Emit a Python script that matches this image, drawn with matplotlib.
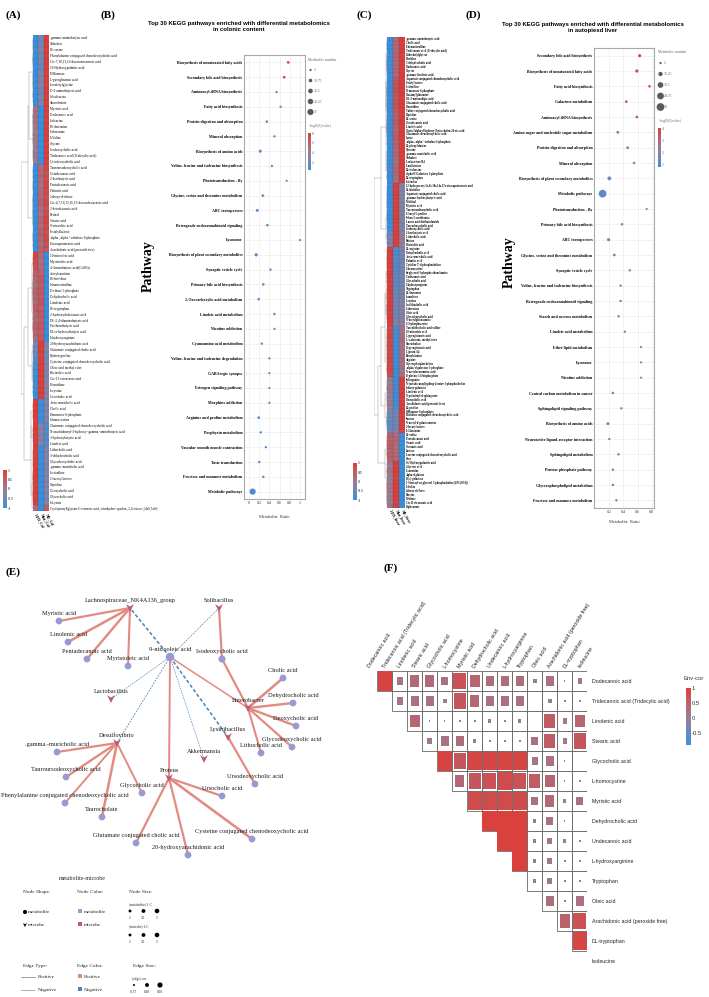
import numpy as np
import matplotlib
matplotlib.use('Agg')
import matplotlib.pyplot as plt
from matplotlib.colors import LinearSegmentedColormap, Normalize
from matplotlib.collections import LineCollection
from matplotlib.patches import Rectangle
from matplotlib.path import Path
from matplotlib.cm import ScalarMappable

SERIF = 'Liberation Serif'
SANS = 'Liberation Sans'

# ------------------------------------------------------------------ DATA
# Panel A heatmap (colonic content)
A_rows = ['.gamma.-aminobutyric acid', 'Trehalose', 'DL-serine', 'Phenylalanine conjugated chenodeoxycholic acid',
          'Cis-7,10,13,16-docosatetraenoic acid', '16-Hydroxypalmitic acid', 'D-Mannose', 'L-pyroglutamic acid',
          'Isovalerylglycine', 'D-2-aminobutyric acid', 'L-Isoleucine', 'Taurocholate', 'Myristic acid',
          'Dodecanoic acid', 'Isoleucine', 'DL-threonine', 'L-threonine', 'L-Valine', 'Glycine',
          'Isodeoxycholic acid', 'Tridecanoic acid (Tridecylic acid)', 'Ursodeoxycholic acid',
          'Tauroursodeoxycholic acid', 'Octadecanoic acid', '2-ketobutyric acid', 'Pentadecanoic acid',
          'Palmitic acid', '2-deoxy-d-ribose', 'Cis-4,7,10,13,16,19-docosahexaenoic acid', '2-ketodecanoic acid',
          'Retinol', 'Stearic acid', '9-nitrooleic acid', "6'-sialyllactose",
          ".alpha.,.alpha.'-trehalose 6-phosphate", 'Eicosapentaenoic acid', 'Arachidonic acid (peroxide free)',
          '10-nitrooleic acid', 'Myristoleic acid', '4-Aminobutyric acid(GABA)', 'Acetylcarnitine', 'DL-histidine',
          'L-homocitrulline', 'D-ribose 5-phosphate', 'Dehydrocholic acid', 'Linolenic acid', 'DL-tryptophan',
          '2-hydroxydodecanoic acid', 'DL-2,4-diaminobutyric acid', 'Perfluorobutyric acid',
          'DL-a-hydroxybutyric acid', 'L-hydroxyarginine', '20-hydroxyarachidonic acid',
          'Glutamate conjugated cholic acid', 'Hydroxyproline', 'Cysteine conjugated chenodeoxycholic acid',
          'Oleic acid methyl ester', 'Ricinoleic acid', 'Cis-11-eicosenoic acid', 'D-ornithine', 'L-cystine',
          'Ursocholic acid', '.beta.-muricholic acid', 'Cholic acid', 'D-mannose-6-phosphate', 'L-homocystine',
          'Glutamate conjugated chenodeoxycholic acid',
          'N-arachidonoyl-3-hydroxy-.gamma.-aminobutyric acid', '3-hydroxybutyric acid', 'Linoleic acid',
          'Lithocholic acid', '3-dehydrocholic acid', 'Glycodeoxycholic acid', '.gamma.-muricholic acid',
          'L-citrulline', "2'-fucosyllactose", 'D-proline', 'Deoxycholic acid', 'Glycocholic acid', 'L-Lysine',
          'Cyclopentyl[glycan-5-octanoic acid, tetrahydro-.epsilon.,2,4-trioxo-,(4aS,5aS)-']
A_cols = ['HFD_Col', 'Nfat_Col', 'ND_Col']
A_c1 = [-1, -1, -0.9, -1, -1, -0.95, -1, -1, -0.9, -1, -1, -0.95,
        0.1, 0.2, 0.15, 0.1, 0.0, 0.1, 0.05, -0.1, 0.1, 0.0,
        -1, -1, -1, -0.95, -1, -1, -1, -0.95, -1, -1, -1, -0.95, -1, -1, -1,
        0.9, 0.8, 0.7, 0.5, 0.4, 0.3, 0.5, 0.4, 0.3, 0.6, 0.4, 0.3, 0.5, 0.4, 0.3,
        -0.3, -0.5, -0.6, -0.8, -0.9, -0.9, -1, -0.9, -1, -1,
        1, 1, 1, 0.95, 1, 1, 0.95, 1, 1, 1, 0.95, 1, 1, 1, 0.95, 1, 1, 1, 0.3]
A_c2 = [-0.5, -0.4, -0.3, -0.5, -0.4, -0.6, -0.3, -0.4, -0.2, -0.5, -0.4, -0.3,
        -1, -1, -0.95, -1, -1, -1, -0.95, -1, -1, -1,
        0.3, 0.4, 0.3, 0.2, 0.3, 0.4, 0.5, 0.3, 0.2, 0.4, 0.3, 0.5, 0.4, 0.3, 0.4,
        0.3, 0.2, 0.3, 0.4, 0.6, 0.5, 0.6, 0.5, 0.7, 0.5, 0.6, 0.5, 0.6, 0.5, 0.6,
        1, 1, 0.95, 1, 1, 1, 0.95, 1, 1, 1,
        -1, -1, -1, -1, -0.2, -0.3, -0.2, -0.3, -1, -1, -0.95, -1, -1, -1, -0.95, -1, -1, -1, -1]
A_c3 = [1, 1, 0.95, 1, 1, 1, 0.95, 1, 1, 1, 0.95, 1,
        1, 1, 0.95, 1, 1, 1, 0.95, 1, 1, 1,
        0.8, 0.7, 0.8, 0.9, 0.8, 0.7, 0.8, 0.7, 0.8, 0.9, 0.8, 0.7, 0.8, 0.7, 0.6,
        -1, -1, -1, -0.95, -1, -1, -1, -0.95, -1, -1, -1, -0.95, -1, -1, -1,
        -0.4, -0.3, -0.5, -0.4, -0.2, -0.3, -0.4, -0.1, -0.2, -0.3,
        -0.3, -0.4, -0.2, -0.3, -0.8, -0.7, -0.8, -0.7, -0.3, -0.2, -0.3, -0.4, -0.2, -0.3, -0.2, -0.3, -0.4, -0.3, 0.5]

# Panel C heatmap (liver)
C_rows = ['.gamma.-aminobutyric acid', 'Cholic acid', 'L-homocitrulline', 'Tridecanoic acid (Tridecylic acid)',
          'Lithocholylglycine', 'Histidine', '3-dehydrocholic acid', 'Dodecanoic acid', 'Glycine',
          '.gamma.-linolenic acid', 'Aspartate conjugated chenodeoxycholic acid', "6'-sialyllactose",
          'L-citrulline', 'D-mannose 6-phosphate', 'Glutamylglutamine', 'DL-2-aminoadipic acid',
          'Glutamate conjugated cholic acid', 'D-ornithine', 'Valine conjugated chenodeoxycholic acid', 'D-proline',
          'DL-serine', 'Octadecanoic acid', 'Linoleic acid', '3beta,7alpha-dihydroxy-5beta-cholan-24-oic acid',
          'Glutamate chenodeoxycholic acid', 'Lysine', ".alpha.,.alpha.'-trehalose 6-phosphate",
          'DL-phenylalanine', 'Tyrosine', '.gamma.-muricholic acid', 'Trehalose', 'Leukotriene B4',
          'L-methionine', 'DL-isoleucine', 'alpha-D-Galactose 1-phosphate', 'DL-tryptophan', 'Isoleucine',
          '12-hydroperoxy-5z,8z,10e,14z,17z-eicosapentaenoic acid', 'DL-histidine',
          'Aspartate conjugated cholic acid', '.gamma.-hydroxybutyric acid', 'Maltitol', 'Myristic acid',
          'Tauroursodeoxycholic acid', 'L-leucyl-L-proline', 'Seleno-L-methionine', 'Lauric acid diethanolamide',
          'Taurodeoxycholic acid', 'Isodeoxycholic acid', '2-ketobutyric acid', 'Lithocholic acid', 'Betaine',
          'Ricinoleic acid', 'DL-arginine', 'Dehydrocholic acid', '.beta.-muricholic acid', 'Palmitic acid',
          "Cytidine 5'-diphosphocholine", 'L-homocystine', 'Sn-glycerol-3-phosphoethanolamine', 'Undecanoic acid',
          'Glycocholic acid', 'L-hydroxyarginine', 'Tryptophan', 'DL-threonine', 'Isomaltose', 'L-cystine',
          'Isolithocholic acid', 'L-threonine', 'Oleic acid', 'Glycodeoxycholic acid', 'N-acetylglucosamine',
          'L-O-phosphoserine', 'Taurolithocholic acid sulfate', '10-nitrooleic acid', 'L-pyroglutamic acid',
          'L-isoleucine, methyl ester', 'Taurocholate', 'D-pyroglutamic acid', 'Lipoxin A4', 'Phenylalanine',
          'Arginine', 'Glycerophosphocholine', '.alpha.-d-galactose 1-phosphate', 'N-acetylneuraminic acid',
          'D-glucose 1,6-bisphosphate', 'Sphinganine', 'N-(octadecanoyl)sphing-4-enine-1-phosphocholine',
          '1-deoxy-galactose', 'Linolenic acid', 'N-palmitoyl-d-sphingosine', 'Deoxycholic acid',
          'Arachidonic acid (peroxide free)', 'DL-proline', 'D-Mannose-6-phosphate',
          'Histidine conjugated chenodeoxycholic acid', 'Sucrose', 'N-acetyl-d-galactosamine',
          "2'-fucosyllactose", 'L-Glutamine', 'DL-valine', 'Pentadecanoic acid', 'Stearic acid', 'Octanoic acid',
          'Lactose', 'Leucine conjugated chenodeoxycholic acid', 'Urea', '16-Hydroxypalmitic acid',
          'Glyceric acid', 'L-carnitine', 'Alpha-d-glucose', 'D-(+)-galactose',
          '1-Stearoyl-sn-glycerol 3-phosphocholine(LPC(18:0))', 'L-Valine', '2-deoxy-d-ribose', 'Taurine',
          'Maltose', 'Cis-11-eicosenoic acid', 'D-gluconate']
C_cols = ['HFD_liver', 'Nfat_liver', 'ND_liver']
C_c1 = [-1, -0.95, -1, -1, -0.9, -1, -1, -0.95, -1, -1, -1, -0.9, -1, -1, -1, -0.95, -1, -1, -1, -0.9,
        -1, -1, -0.95, -1, -1, -1, -0.9, -1, -1, -1, -0.95, -1, -1, -0.9, -1, -1, -1,
        -0.9, -1, -1, -0.95, -1, -1, -0.9, -1, -1, -1, -0.95, -1, -0.6, -0.5, -0.4, -0.3,
        1, 1, 0.95, 1, 1, 0.9, 1, 1, 1, 0.95, 1, 1, 0.9, 1, 1, 1, 0.95, 1, 1, 0.9,
        0.8, 0.85, 0.9, 0.8, 0.85, 0.9, 0.8, 0.85, 0.9, 0.8, 0.85, 0.9, 0.8,
        0.1, 0.0, 0.2, 0.1, 0.0, -0.1, 0.1, 0.0, -0.2, -0.5, -0.6, -0.7, -0.6, -0.5,
        0.5, 0.4, 0.5, 0.6, 0.4, 0.5, 0.4,
        0.1, 0.0, 0.2, 0.1, -0.1, 0.0, 0.1, 0.2, 0.0, 0.1, 0.0, 0.1]
C_c2 = [0.3, 0.4, 0.35, 0.3, 0.45, 0.4, 0.3, 0.35, 0.4, 0.3, 0.6, 0.7, 0.65, 0.8, 0.7, 0.6, 0.7, 0.75, 0.6, 0.5,
        0.5, 0.6, 0.5, 0.4, 0.5, 0.6, 0.4, 0.5, 0.3, 0.4, 0.3, 0.2, 0.3, 0.4, 0.3, 0.2, 0.3,
        1, 0.95, 1, 1, 0.9, 1, 1, 0.95, 1, 1, 0.9, 1, 1, 0.95, 1, 1,
        -0.8, -0.9, -0.8, -0.7, -0.9, -0.8, -0.7, -0.6, -0.8, -0.7, -0.6, -0.7, -0.5, -0.6, -0.4, -0.5, -0.6,
        -0.4, -0.5, -0.3, -0.9, -1, -0.9, -0.95, -1, -0.9, -1, -0.95, -0.9, -1, -0.9, -1, -0.95,
        -1, -0.95, -1, -0.9, -1, -0.95, -1, -0.9, -0.6, -0.5, -0.4, -0.5, -0.4, -0.3,
        0.3, 0.4, 0.3, 0.2, 0.3, 0.4, 0.3,
        1, 0.95, 1, 1, 0.9, 1, 1, 0.95, 1, 1, 0.9, 1]
C_c3 = [1, 0.95, 1, 1, 0.9, 1, 1, 0.95, 1, 1, 1, 0.9, 1, 1, 1, 0.95, 1, 1, 1, 0.9,
        1, 1, 0.95, 1, 1, 1, 0.9, 1, 1, 1, 0.95, 1, 1, 0.9, 1, 1, 1,
        -0.3, -0.2, -0.4, -0.3, -0.2, -0.3, -0.4, -0.2, -0.3, -0.2, -0.4, -0.3, -0.1, 0.0, -0.1, 0.0,
        -0.4, -0.3, -0.5, -0.4, -0.3, -0.5, -0.4, -0.3, -0.5, -0.4, -0.3, -0.2, -0.4, -0.3, -0.2, -0.3, -0.2,
        -0.3, -0.2, -0.1, 0.2, 0.1, 0.2, 0.3, 0.1, 0.2, 0.1, 0.2, 0.3, 0.1, 0.2, 0.1, 0.2,
        1, 0.9, 1, 0.95, 1, 0.9, 1, 0.95, 1, 0.9, 1, 0.95, 1, 0.9,
        -1, -1, -0.95, -1, -1, -0.95, -1,
        -1, -0.95, -1, -1, -0.95, -1, -1, -0.95, -1, -1, -0.95, -1]

# Panel B (colonic content KEGG)
B_paths = ['Biosynthesis of unsaturated fatty acids', 'Secondary bile acid biosynthesis',
           'Aminoacyl-tRNA biosynthesis', 'Fatty acid biosynthesis', 'Protein digestion and absorption',
           'Mineral absorption', 'Biosynthesis of amino acids', 'Valine, leucine and isoleucine biosynthesis',
           'Phototransduction - fly', 'Glycine, serine and threonine metabolism', 'ABC transporters',
           'Retrograde endocannabinoid signaling', 'Lysosome', 'Biosynthesis of plant secondary metabolites',
           'Synaptic vesicle cycle', 'Primary bile acid biosynthesis', '2-Oxocarboxylic acid metabolism',
           'Linoleic acid metabolism', 'Nicotine addiction', 'Cyanoamino acid metabolism',
           'Valine, leucine and isoleucine degradation', 'GABAergic synapse', 'Estrogen signaling pathway',
           'Morphine addiction', 'Arginine and proline metabolism', 'Porphyrin metabolism',
           'Vascular smooth muscle contraction', 'Taste transduction', 'Fructose and mannose metabolism',
           'Metabolic pathways']
B_ratio = [0.77, 0.69, 0.54, 0.62, 0.35, 0.50, 0.22, 0.45, 0.74, 0.27, 0.16, 0.36, 1.0, 0.14, 0.42,
           0.28, 0.19, 0.50, 0.50, 0.25, 0.40, 0.40, 0.40, 0.40, 0.19, 0.23, 0.33, 0.20, 0.28, 0.07]
B_count = [5, 5, 3, 3, 4, 3, 7, 3, 2, 5, 6, 4, 2, 8, 3, 4, 4, 3, 2, 3, 2, 2, 2, 2, 4, 3, 2, 3, 3, 37]
B_q = [7.6, 7.0, 4.2, 4.0, 2.4, 2.3, 2.0, 2.2, 2.2, 1.9, 1.6, 1.8, 2.0, 1.4, 1.5, 1.5, 1.3, 1.4, 1.4,
       1.3, 1.2, 1.2, 1.2, 1.2, 1.1, 1.1, 1.0, 1.0, 1.0, 0.9]

# Panel D (liver KEGG)
D_paths = ['Secondary bile acid biosynthesis', 'Biosynthesis of unsaturated fatty acids', 'Fatty acid biosynthesis',
           'Galactose metabolism', 'Aminoacyl-tRNA biosynthesis', 'Amino sugar and nucleotide sugar metabolism',
           'Protein digestion and absorption', 'Mineral absorption', 'Biosynthesis of plant secondary metabolites',
           'Metabolic pathways', 'Phototransduction - fly', 'Primary bile acid biosynthesis', 'ABC transporters',
           'Glycine, serine and threonine metabolism', 'Synaptic vesicle cycle',
           'Valine, leucine and isoleucine biosynthesis', 'Retrograde endocannabinoid signaling',
           'Starch and sucrose metabolism', 'Linoleic acid metabolism', 'Ether lipid metabolism', 'Lysosome',
           'Nicotine addiction', 'Central carbon metabolism in cancer', 'Sphingolipid signaling pathway',
           'Biosynthesis of amino acids', 'Neuroactive ligand-receptor interaction', 'Sphingolipid metabolism',
           'Pentose phosphate pathway', 'Glycerophospholipid metabolism', 'Fructose and mannose metabolism']
D_ratio = [0.63, 0.59, 0.77, 0.44, 0.59, 0.32, 0.46, 0.55, 0.20, 0.105, 0.73, 0.38, 0.19, 0.27, 0.49,
           0.36, 0.36, 0.33, 0.42, 0.65, 0.65, 0.65, 0.25, 0.37, 0.18, 0.20, 0.33, 0.25, 0.25, 0.30]
D_count = [7, 8, 4, 5, 5, 5, 5, 4, 12, 59, 2, 4, 8, 5, 3, 3, 3, 3, 3, 2, 2, 2, 4, 3, 6, 3, 3, 3, 3, 3]
D_q = [3.9, 3.7, 3.6, 3.1, 3.0, 2.9, 2.6, 2.5, 1.5, 1.3, 2.2, 2.1, 1.6, 1.8, 1.9, 1.7, 1.7, 1.6, 1.6,
       1.8, 1.8, 1.8, 1.5, 1.5, 1.3, 1.4, 1.4, 1.3, 1.3, 1.3]

# Panel E network: edges (source, target, correlation)
E_metabolites = ['Myristic acid', 'Linolenic acid', 'Pentadecanoic acid', 'Myristoleic acid', '9-nitrooleic acid',
                 'Isodeoxycholic acid', 'Cholic acid', 'Dehydrocholic acid', 'Deoxycholic acid',
                 'Glycodeoxycholic acid', 'Lithocholic acid', '.gamma.-muricholic acid',
                 'Tauroursodeoxycholic acid', 'Phenylalanine conjugated chenodeoxycholic acid', 'Taurocholate',
                 'Glycocholic acid', 'Ursocholic acid', 'Ursodeoxycholic acid',
                 'Cysteine conjugated chenodeoxycholic acid', 'Glutamate conjugated cholic acid',
                 '20-hydroxyarachidonic acid']
E_microbes = ['Lachnospiraceae_NK4A136_group', 'Solibacillus', 'Enterobacter', 'Lactobacillus', 'Lysinibacillus',
              'Akkermansia', 'Desulfovibrio', 'Proteus']
E_edges = [
    ('Lachnospiraceae_NK4A136_group', 'Myristic acid', 0.80),
    ('Lachnospiraceae_NK4A136_group', 'Linolenic acid', 0.90),
    ('Lachnospiraceae_NK4A136_group', 'Pentadecanoic acid', 0.85),
    ('Lachnospiraceae_NK4A136_group', 'Myristoleic acid', 0.75),
    ('Solibacillus', 'Isodeoxycholic acid', 0.80),
    ('Enterobacter', 'Isodeoxycholic acid', 0.80),
    ('Enterobacter', 'Cholic acid', 0.93),
    ('Enterobacter', 'Dehydrocholic acid', 0.85),
    ('Enterobacter', 'Deoxycholic acid', 0.85),
    ('Enterobacter', 'Glycodeoxycholic acid', 0.80),
    ('Enterobacter', 'Lithocholic acid', 0.75),
    ('9-nitrooleic acid', 'Enterobacter', 0.55),
    ('9-nitrooleic acid', 'Proteus', 0.70),
    ('Lysinibacillus', 'Ursodeoxycholic acid', 0.80),
    ('Desulfovibrio', '.gamma.-muricholic acid', 0.80),
    ('Desulfovibrio', 'Tauroursodeoxycholic acid', 0.85),
    ('Desulfovibrio', 'Phenylalanine conjugated chenodeoxycholic acid', 0.70),
    ('Desulfovibrio', 'Taurocholate', 0.90),
    ('Desulfovibrio', 'Glycocholic acid', 0.70),
    ('Proteus', 'Ursocholic acid', 0.80),
    ('Proteus', 'Cysteine conjugated chenodeoxycholic acid', 0.93),
    ('Proteus', 'Glutamate conjugated cholic acid', 0.80),
    ('Proteus', '20-hydroxyarachidonic acid', 0.80),
    ('9-nitrooleic acid', 'Lachnospiraceae_NK4A136_group', -0.57),
    ('9-nitrooleic acid', 'Lysinibacillus', -0.57),
    ('9-nitrooleic acid', 'Solibacillus', -0.25),
    ('9-nitrooleic acid', 'Lactobacillus', -0.25),
    ('9-nitrooleic acid', 'Desulfovibrio', -0.30),
    ('9-nitrooleic acid', 'Akkermansia', -0.25),
]

# Panel F correlation matrix (upper triangle, row i vs columns i+1..15)
F_labels = ['Dodecanoic acid', 'Tridecanoic acid (Tridecylic acid)', 'Linolenic acid', 'Stearic acid',
            'Glycocholic acid', 'L-homocystine', 'Myristic acid', 'Dehydrocholic acid', 'Undecanoic acid',
            'L-hydroxyarginine', 'Tryptophan', 'Oleic acid', 'Arachidonic acid (peroxide free)', 'DL-tryptophan',
            'Isoleucine']
F_upper = [
    [0.94, 0.16, 0.36, 0.36, 0.20, 0.72, 0.42, 0.30, 0.30, 0.30, 0.06, 0.25, 0.003, 0.09],
    [0.16, 0.25, 0.25, 0.06, 0.64, 0.36, 0.25, 0.25, 0.25, 0.0, 0.06, 0.02, 0.015],
    [0.42, 0.006, 0.006, 0.01, 0.02, 0.04, 0.02, 0.04, 0.001, 0.56, 0.09, 0.42],
    [0.12, 0.25, 0.30, 0.04, 0.01, 0.01, 0.01, 0.20, 0.56, 0.09, 0.64],
    [0.94, 0.64, 0.90, 0.90, 0.90, 0.90, 0.16, 0.25, 0.006, 0.0],
    [0.36, 0.64, 0.72, 0.81, 0.72, 0.56, 0.42, 0.003, 0.02],
    [0.81, 0.81, 0.81, 0.81, 0.20, 0.36, 0.04, 0.20],
    [0.98, 0.98, 0.98, 0.04, 0.20, 0.003, 0.0005],
    [0.98, 0.98, 0.04, 0.12, 0.04, 0.01],
    [0.98, 0.04, 0.12, 0.02, 0.01],
    [0.04, 0.12, 0.02, 0.01],
    [0.30, 0.01, 0.25],
    [0.49, 0.72],
    [0.90],
    [],
]

# ------------------------------------------------------------------ LAYOUT
W, H = 709, 997
fig = plt.figure(figsize=(W / 100, H / 100), dpi=100)
fig.patch.set_facecolor('white')


def add_ax(x0, y0, x1, y1):
    return fig.add_axes([x0 / W, 1 - y1 / H, (x1 - x0) / W, (y1 - y0) / H])


def ftext(x, y, s, **kw):
    fig.text(x / W, 1 - y / H, s, **kw)


cmap = LinearSegmentedColormap.from_list('rb', ['#3a8fdd', '#6f88b8', '#9b7d93', '#bd5f69', '#db3f3b'])

# panel letters
for lab, x, y in [('(A)', 13, 15), ('(B)', 108, 15), ('(C)', 364, 15), ('(D)', 473, 15),
                  ('(E)', 13, 572), ('(F)', 391, 568)]:
    ftext(x, y, lab, ha='center', va='center', fontsize=8, fontweight='bold', family=SERIF)


# ------------------------------------------------------------------ heatmaps with dendrograms
def adj_linkage(M):
    clusters = [dict(mean=M[i].astype(float), cnt=1, y=i + 0.5, h=0.0) for i in range(len(M))]
    segs = []
    hmax = 0.0
    while len(clusters) > 1:
        d = []
        for k in range(len(clusters) - 1):
            a, b = clusters[k], clusters[k + 1]
            w = np.sqrt(2.0 * a['cnt'] * b['cnt'] / (a['cnt'] + b['cnt']))
            d.append(np.linalg.norm(a['mean'] - b['mean']) * w)
        k = int(np.argmin(d))
        a, b = clusters[k], clusters[k + 1]
        h = max(d[k], a['h'], b['h']) + 0.02
        segs += [[(a['h'], a['y']), (h, a['y'])], [(b['h'], b['y']), (h, b['y'])],
                 [(h, a['y']), (h, b['y'])]]
        cnt = a['cnt'] + b['cnt']
        clusters[k:k + 2] = [dict(mean=(a['mean'] * a['cnt'] + b['mean'] * b['cnt']) / cnt, cnt=cnt,
                                  y=(a['y'] + b['y']) / 2, h=h)]
        hmax = h
    return segs, hmax


def heat_panel(box, dend_x0, cols, rows, col_labels, fs, weight, cbar_box):
    x0, y0, x1, y1 = box
    M = np.column_stack([np.array(c, float) for c in cols])
    n = M.shape[0]
    ax = add_ax(x0, y0, x1, y1)
    ax.pcolormesh(M, cmap=cmap, vmin=-1, vmax=1, edgecolors='none', antialiased=False)
    ax.hlines(np.arange(n + 1), 0, 3, color='#2a2a2a', lw=0.2, alpha=0.35)
    ax.vlines([1, 2], 0, n, color='#2a2a2a', lw=0.25, alpha=0.45)
    ax.set_xlim(0, 3)
    ax.set_ylim(n, 0)
    ax.yaxis.tick_right()
    ax.set_yticks(np.arange(n) + 0.5)
    ax.set_yticklabels(rows[:n], fontsize=fs, family=SERIF, fontweight=weight)
    ax.set_xticks([])
    ax.tick_params(length=0, pad=0.8)
    for s in ax.spines.values():
        s.set_visible(False)
    for j, cl in enumerate(col_labels):
        ax.text(j + 0.5, n + 0.6, cl, rotation=-60, rotation_mode='anchor', ha='left', va='center',
                fontsize=2.8, family=SERIF, fontweight='bold', clip_on=False)
    dax = add_ax(dend_x0, y0, x0, y1)
    segs, hmax = adj_linkage(M)
    dax.add_collection(LineCollection(segs, colors='#8a8a8a', linewidths=0.3))
    dax.set_xlim(hmax * 1.03, 0)
    dax.set_ylim(n, 0)
    dax.axis('off')
    cax = add_ax(*cbar_box)
    cb = fig.colorbar(ScalarMappable(norm=Normalize(-1, 1), cmap=cmap), cax=cax, ticks=[1, 0.5, 0, -0.5, -1])
    cb.outline.set_visible(False)
    cb.ax.set_yticklabels(['1', '0.5', '0', '-0.5', '-1'])
    cb.ax.tick_params(labelsize=2.8, length=0, pad=0.8)
    for t in cb.ax.get_yticklabels():
        t.set_family(SERIF)


heat_panel((33, 35, 49, 511), 21, [A_c1, A_c2, A_c3], A_rows, A_cols, 2.4, 'normal', (3, 470, 7, 508))
heat_panel((387, 37, 405, 508), 374, [C_c1, C_c2, C_c3], C_rows, C_cols, 2.0, 'bold', (353, 463, 357, 500))


# ------------------------------------------------------------------ bubble panels
def bsize(v):
    return 1.5 + 0.5 * np.asarray(v, float)


def bubble_panel(box, paths, ratio, count, q, xlim, xticks, xtl, vmin, vmax, cticks, title, title_xy,
                 pathway_xy, xlabel_y, leg_x, leg_title_y, leg_vals, leg_y0, leg_dy, q_label_y, cbar_box):
    x0, y0, x1, y1 = box
    ax = add_ax(x0, y0, x1, y1)
    y = np.arange(1, len(paths) + 1)
    ax.scatter(ratio, y, s=bsize(count), c=q, cmap=cmap, vmin=vmin, vmax=vmax,
               edgecolors='none', zorder=3)
    ax.set_xlim(*xlim)
    ax.set_ylim(len(paths) + 0.5, 0.5)
    ax.set_yticks(y)
    ax.set_yticklabels(paths, fontsize=2.9, family=SERIF, fontweight='bold')
    ax.set_xticks(xticks)
    ax.set_xticklabels(xtl, fontsize=2.9, family=SERIF, color='#333333')
    ax.tick_params(length=0, pad=1.2)
    ax.grid(True, linestyle=(0, (1, 1.6)), color='#cfcfcf', linewidth=0.45)
    ax.set_axisbelow(True)
    for s in ax.spines.values():
        s.set_color('#a8a8a8')
        s.set_linewidth(0.8)
    ftext(title_xy[0], title_xy[1], title, ha='center', va='center', fontsize=4.3, fontweight='bold',
          family=SANS, linespacing=1.05)
    ftext(pathway_xy[0], pathway_xy[1], 'Pathway', rotation=90, ha='center', va='center', fontsize=10,
          fontweight='bold', family=SERIF)
    ftext((x0 + x1) / 2, xlabel_y, 'Metabolite  Ratio', ha='center', va='center', fontsize=3.2,
          family=SERIF, color='#333333')
    # size legend
    ftext(leg_x, leg_title_y, 'Metabolite number', ha='left', va='center', fontsize=2.7, family=SERIF,
          color='#666666')
    lax = add_ax(leg_x - 2, leg_y0 - 6, leg_x + 30, leg_y0 + leg_dy * 5)
    lax.set_xlim(leg_x - 2, leg_x + 30)
    lax.set_ylim(leg_y0 + leg_dy * 5, leg_y0 - 6)
    lax.axis('off')
    for k, v in enumerate(leg_vals):
        yy = leg_y0 + k * leg_dy
        lax.scatter([leg_x + 2.5], [yy], s=bsize(v), color='#5a5a5a', edgecolors='none')
        lax.text(leg_x + 6, yy, ('%g' % v), fontsize=2.7, family=SERIF, color='#666666', va='center')
    ftext(leg_x, q_label_y, r'-log$_{10}$(Qvalue)', ha='left', va='center', fontsize=2.7, family=SERIF,
          color='#666666')
    cax = add_ax(*cbar_box)
    cb = fig.colorbar(ScalarMappable(norm=Normalize(vmin, vmax), cmap=cmap), cax=cax, ticks=cticks)
    cb.outline.set_visible(False)
    cb.ax.tick_params(labelsize=2.7, length=0, pad=0.8, labelcolor='#666666')
    for t in cb.ax.get_yticklabels():
        t.set_family(SERIF)


bubble_panel((244, 55, 305, 499), B_paths, B_ratio, B_count, B_q, (-0.1, 1.1),
             [0, 0.2, 0.4, 0.6, 0.8, 1.0], ['0', '0.2', '0.4', '0.6', '0.8', '1'], 0.35, 8.05, [2, 4, 6, 8],
             'Top 30 KEGG pathways enriched with differential metabolomics\nin colonic content', (239, 26.5),
             (148, 266), 517, 308, 60, [2, 10.75, 19.5, 28.25, 37], 70, 10.5, 126, (308, 133, 311, 170))

bubble_panel((594, 48, 654, 508), D_paths, D_ratio, D_count, D_q, (-0.017, 0.833),
             [0.2, 0.4, 0.6, 0.8], ['0.2', '0.4', '0.6', '0.8'], 0.75, 4.0, [1, 2, 3, 4],
             'Top 30 KEGG pathways enriched with differential metabolomics\nin autopiesd liver', (593, 27.5),
             (509, 262), 522, 658, 52, [2, 16.25, 30.5, 44.75, 59], 63, 11, 121, (658, 128, 661, 167))

# ------------------------------------------------------------------ panel E network
E_layout = {
    'Lachnospiraceae_NK4A136_group': (130, 608), 'Solibacillus': (219, 608), 'Myristic acid': (59, 621),
    'Linolenic acid': (68, 642), 'Pentadecanoic acid': (87, 659), 'Myristoleic acid': (128, 666),
    '9-nitrooleic acid': (170, 657), 'Isodeoxycholic acid': (222, 659), 'Cholic acid': (283, 678),
    'Dehydrocholic acid': (293, 703), 'Enterobacter': (248, 708), 'Lactobacillus': (111, 699),
    'Deoxycholic acid': (296, 726), 'Glycodeoxycholic acid': (292, 747), 'Lithocholic acid': (261, 753),
    'Lysinibacillus': (228, 737), 'Akkermansia': (204, 759), 'Desulfovibrio': (117, 743),
    '.gamma.-muricholic acid': (57, 752), 'Tauroursodeoxycholic acid': (66, 777),
    'Phenylalanine conjugated chenodeoxycholic acid': (65, 803), 'Taurocholate': (102, 817),
    'Glycocholic acid': (142, 793), 'Proteus': (169, 778), 'Ursocholic acid': (222, 796),
    'Ursodeoxycholic acid': (255, 784), 'Cysteine conjugated chenodeoxycholic acid': (252, 839),
    'Glutamate conjugated cholic acid': (136, 843), '20-hydroxyarachidonic acid': (188, 855),
}
MET_COL = '#9a9ad3'
MIC_COL = '#b8597f'
POS_COL = '#e38a82'
NEG_COL = '#4a88b8'
v_marker = Path([(-1, 1), (0, 0.35), (1, 1), (0, -1), (-1, 1)],
                [Path.MOVETO, Path.LINETO, Path.LINETO, Path.LINETO, Path.CLOSEPOLY])

axE = add_ax(0, 560, 360, 870)
axE.set_xlim(0, 360)
axE.set_ylim(870, 560)
axE.axis('off')
degree = {}
for s, t, c in E_edges:
    degree[s] = degree.get(s, 0) + 1
    degree[t] = degree.get(t, 0) + 1
    (xa, ya), (xb, yb) = E_layout[s], E_layout[t]
    if c > 0:
        axE.plot([xa, xb], [ya, yb], color=POS_COL, lw=2.0 * abs(c), solid_capstyle='round', zorder=1)
    else:
        axE.plot([xa, xb], [ya, yb], color=NEG_COL, lw=2.0 * abs(c), ls=(0, (2.2, 1.4)), zorder=1)
for name in E_metabolites:
    x, y = E_layout[name]
    axE.scatter([x], [y], s=24 + 2 * (degree.get(name, 1) - 1), color=MET_COL, edgecolors='none', zorder=3)
for name in E_microbes:
    x, y = E_layout[name]
    axE.scatter([x], [y], s=32, marker=v_marker, color=MIC_COL, edgecolors='none', zorder=3)
for name in E_metabolites + E_microbes:
    x, y = E_layout[name]
    axE.text(x, y - 7.5, name, ha='center', va='center', fontsize=4.6, family=SERIF, color='#1a1a1a', zorder=2)

# legend of E
leg = add_ax(0, 870, 360, 997)
leg.set_xlim(0, 360)
leg.set_ylim(997, 870)
leg.axis('off')
lkw = dict(family=SERIF, color='#222222', va='center')
leg.text(82, 878, 'metabolite-microbe', ha='center', fontsize=4.2, **lkw)
leg.text(23, 892, 'Node Shape:', ha='left', fontsize=3.8, **lkw)
leg.text(77, 892, 'Node Color:', ha='left', fontsize=3.8, **lkw)
leg.text(129, 892, 'Node Size:', ha='left', fontsize=3.8, **lkw)
leg.scatter([25], [912], s=9, color='black', edgecolors='none')
leg.text(28, 912, 'metabolite', ha='left', fontsize=3.8, **lkw)
leg.scatter([25], [925], s=9, marker=v_marker, color='black', edgecolors='none')
leg.text(28, 925, 'microbe', ha='left', fontsize=3.8, **lkw)
leg.scatter([80], [911], s=7, marker='s', color=MET_COL, edgecolors='none')
leg.text(84, 912, 'metabolite', ha='left', fontsize=3.8, **lkw)
leg.scatter([80], [924], s=7, marker='s', color=MIC_COL, edgecolors='none')
leg.text(84, 925, 'microbe', ha='left', fontsize=3.8, **lkw)
size_vals = [2, 3.5, 5]
for ttl, yt, yd in [('(metabolite) 1:C', 904, 911), ('(microbe) 1:C', 926, 935)]:
    leg.text(129, yt, ttl, ha='left', fontsize=2.5, **lkw)
    for k, v in enumerate(size_vals):
        leg.scatter([130 + 13.5 * k], [yd], s=v * 2.2, color='black', edgecolors='none')
        leg.text(130 + 13.5 * k, yd + 7, '%g' % v, ha='center', fontsize=2.5, **lkw)
leg.text(23, 966, 'Edge Type:', ha='left', fontsize=3.8, **lkw)
leg.plot([21, 35], [977, 977], color='#555555', lw=0.4)
leg.text(37.5, 977, 'Positive', ha='left', fontsize=3.8, **lkw)
leg.plot([21, 35], [990, 990], color='#555555', lw=0.4, ls=(0, (3, 0.6)))
leg.text(37.5, 990, 'Negative', ha='left', fontsize=3.8, **lkw)
leg.text(77, 966, 'Edge Color:', ha='left', fontsize=3.8, **lkw)
leg.scatter([80], [976], s=7, marker='s', color=POS_COL, edgecolors='none')
leg.text(84, 977, 'Positive', ha='left', fontsize=3.8, **lkw)
leg.scatter([80], [989], s=7, marker='s', color=NEG_COL, edgecolors='none')
leg.text(84, 990, 'Negative', ha='left', fontsize=3.8, **lkw)
leg.text(133, 966, 'Edge Size:', ha='left', fontsize=3.8, **lkw)
leg.text(132, 979, '(edge) cor', ha='left', fontsize=2.5, **lkw)
for k, v in enumerate([-0.57, 0.18, 0.93]):
    leg.scatter([134 + 13 * k], [985], s=2 + 6 * k, color='black', edgecolors='none')
    leg.text(134 + 13 * k, 992, '%g' % v, ha='center', fontsize=2.5, **lkw)

# ------------------------------------------------------------------ panel F
axF = add_ax(362.3, 671, 587.3, 971)
axF.set_xlim(0, 15)
axF.set_ylim(15, 0)
axF.axis('off')
fnorm = Normalize(-0.9, 1.0)
for i, row in enumerate(F_upper):
    for k, v in enumerate(row):
        j = i + 1 + k
        axF.add_patch(Rectangle((j, i), 1, 1, facecolor='white', edgecolor='#5a5a5a', lw=0.55, zorder=1))
        a = np.sqrt(abs(v))
        if a > 0.01:
            axF.add_patch(Rectangle((j + 0.5 - a / 2, i + 0.5 - a / 2), a, a, facecolor=cmap(fnorm(v)),
                                    edgecolor='none', zorder=2))
for i, lab in enumerate(F_labels):
    axF.text(15.3, i + 0.5, lab, ha='left', va='center', fontsize=3.8, family=SANS, color='#222222',
             clip_on=False)
    axF.text(i + 0.45, -0.18, lab, rotation=58, rotation_mode='anchor', ha='left', va='center', fontsize=3.8,
             family=SANS, color='#222222', clip_on=False)
ftext(683, 678, 'Env-cor', ha='left', va='center', fontsize=4.2, family=SANS, color='#333333')
caxF = add_ax(685.5, 688, 690.5, 745)
cbF = fig.colorbar(ScalarMappable(norm=fnorm, cmap=cmap), cax=caxF, ticks=[1, 0.5, 0, -0.5])
cbF.outline.set_visible(False)
cbF.ax.set_yticklabels(['1', '0.5', '0', '-0.5'])
cbF.ax.tick_params(labelsize=4.2, length=0, pad=0.8, labelcolor='#333333')
for t in cbF.ax.get_yticklabels():
    t.set_family(SANS)

fig.savefig('out.png', dpi=100, facecolor='white')
